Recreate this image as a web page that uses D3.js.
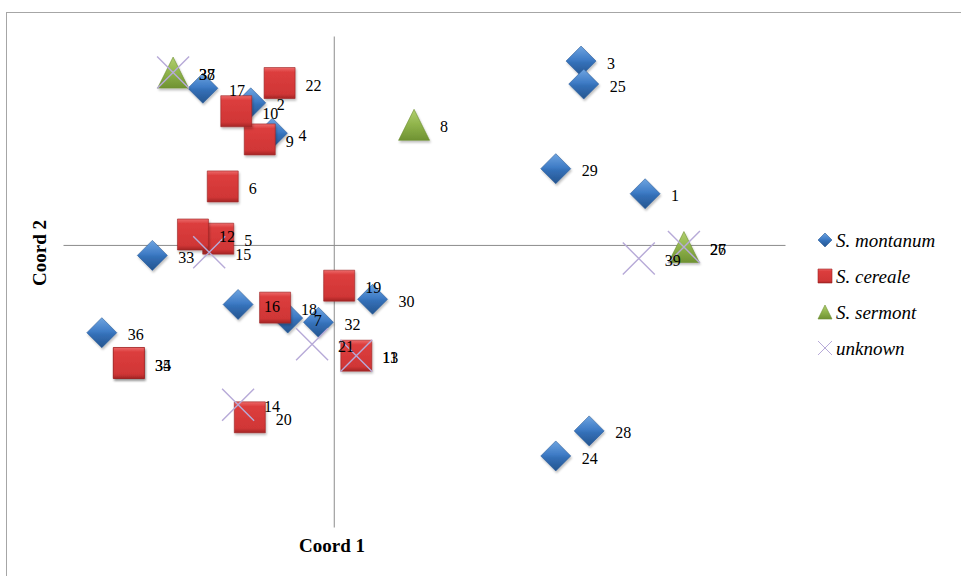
<html>
<head>
<style>
  body { margin: 0; background: #fff; }
  text { font-family: "Liberation Serif", "Times New Roman", serif; }
</style>
</head>
<body>
<svg id="mainSvg" width="961" height="576"></svg>
<script src="https://d3js.org/d3.v7.min.js"></script>
<script>
// PCoA coordinates
const montanumIds = [1, 2, 3, 4, 7, 16, 17, 24, 25, 28, 29, 30, 32, 33, 36]
const montanumX = [0.345, -0.092, 0.274, -0.068, -0.051, -0.106, -0.145, 0.246, 0.277, 0.283, 0.246, 0.043, -0.017, -0.201, -0.257]
const montanumY = [0.049, 0.136, 0.176, 0.107, -0.070, -0.057, 0.150, -0.202, 0.154, -0.178, 0.073, -0.052, -0.074, -0.010, -0.084]

const cerealeIds = [5, 6, 9, 10, 12, 13, 18, 19, 20, 22, 34, 35]
const cerealeX = [-0.128, -0.123, -0.082, -0.108, -0.156, 0.025, -0.065, 0.006, -0.093, -0.060, -0.227, -0.227]
const cerealeY = [0.006, 0.056, 0.101, 0.128, 0.010, -0.106, -0.060, -0.039, -0.165, 0.155, -0.113, -0.113]

const sermontIds = [8, 26, 37]
const sermontX = [0.089, 0.388, -0.178]
const sermontY = [0.115, -0.002, 0.165]

const unknownIds = [11, 14, 15, 21, 27, 38, 39]
const unknownX = [0.025, -0.106, -0.138, -0.024, 0.388, -0.178, 0.338]
const unknownY = [-0.106, -0.153, -0.007, -0.095, -0.002, 0.165, -0.013]

const seriesNames = ['S. montanum', 'S. cereale', 'S. sermont', 'unknown']

const svg = d3.select('#mainSvg')
const xScale = d3.scaleLinear().domain([-0.3, 0.5]).range([63, 785])
const yScale = d3.scaleLinear().domain([-0.27, 0.2]).range([527, 36])

const toPts = (ids, xs, ys) => ids.map((id, i) => ({ id, x: xs[i], y: ys[i] }))
const series = [
  { name: seriesNames[0], kind: 'diamond', pts: toPts(montanumIds, montanumX, montanumY) },
  { name: seriesNames[1], kind: 'square', pts: toPts(cerealeIds, cerealeX, cerealeY) },
  { name: seriesNames[2], kind: 'triangle', pts: toPts(sermontIds, sermontX, sermontY) },
  { name: seriesNames[3], kind: 'cross', pts: toPts(unknownIds, unknownX, unknownY) }
]

// gradients for the bevelled office-style markers
const defs = svg.append('defs')
function grad(id, stops) {
  const g = defs.append('linearGradient').attr('id', id)
    .attr('x1', 0).attr('y1', 0).attr('x2', 0).attr('y2', 1)
  stops.forEach(s => g.append('stop').attr('offset', s[0]).attr('stop-color', s[1]))
}
grad('gBlue', [[0, '#6ea4e0'], [0.45, '#3f7cc6'], [0.55, '#3470b8'], [1, '#25558f']])
grad('gRed', [[0, '#ec6a6a'], [0.15, '#dc3d3d'], [0.85, '#d03636'], [1, '#a52525']])
grad('gGreen', [[0, '#b2d070'], [0.5, '#8fb34b'], [1, '#6f9232']])
const shadow = defs.append('filter').attr('id', 'shadow')
  .attr('x', '-30%').attr('y', '-30%').attr('width', '160%').attr('height', '160%')
shadow.append('feDropShadow').attr('dx', 1).attr('dy', 2).attr('stdDeviation', 1.2)
  .attr('flood-color', '#000').attr('flood-opacity', 0.25)

// outer chart frame
svg.append('rect').attr('x', 6.5).attr('y', 12.5).attr('width', 1000).attr('height', 620)
  .attr('fill', 'none').attr('stroke', '#a6a6a6')

// axes crossing at zero, no ticks
svg.append('g').attr('transform', `translate(0, ${yScale(0)})`)
  .call(d3.axisBottom(xScale).tickValues([]).tickSizeOuter(0))
svg.append('g').attr('transform', `translate(${xScale(0)}, 0)`)
  .call(d3.axisLeft(yScale).tickValues([]).tickSizeOuter(0))
svg.selectAll('.domain').attr('stroke', '#8c8c8c')

function markerPath(kind, s) {
  const h = s / 2
  if (kind === 'diamond') return `M0,${-h}L${h},0L0,${h}L${-h},0Z`
  if (kind === 'square') return `M${-h},${-h}H${h}V${h}H${-h}Z`
  if (kind === 'triangle') return `M0,${-h}L${h},${h}H${-h}Z`
  return `M${-h},${-h}L${h},${h}M${-h},${h}L${h},${-h}`
}
function styleMarker(sel, kind) {
  if (kind === 'diamond') sel.attr('fill', 'url(#gBlue)').attr('stroke', '#2b5c99').attr('stroke-width', 0.6)
  else if (kind === 'square') sel.attr('fill', 'url(#gRed)').attr('stroke', '#9a2323').attr('stroke-width', 0.6)
  else if (kind === 'triangle') sel.attr('fill', 'url(#gGreen)').attr('stroke', '#6d8f33').attr('stroke-width', 0.6)
  else sel.attr('fill', 'none').attr('stroke', '#b7aad8').attr('stroke-width', 1.4)
}
const sizes = { diamond: 30, square: 31, triangle: 31, cross: 32 }

series.forEach(s => {
  const g = svg.append('g')
  const m = g.selectAll('path').data(s.pts).join('path')
    .attr('transform', d => `translate(${xScale(d.x)}, ${yScale(d.y)})`)
    .attr('d', markerPath(s.kind, sizes[s.kind]))
  styleMarker(m, s.kind)
  if (s.kind !== 'cross') m.attr('filter', 'url(#shadow)')
})

// data labels on top of all markers
series.forEach(s => {
  svg.append('g').selectAll('text').data(s.pts).join('text')
    .attr('x', d => xScale(d.x) + 26)
    .attr('y', d => yScale(d.y) + 2)
    .attr('dy', '0.35em')
    .attr('font-size', 16)
    .attr('fill', '#000')
    .text(d => d.id)
})

// axis titles
svg.append('text').attr('x', 332).attr('y', 552)
  .attr('text-anchor', 'middle').attr('font-size', 19).attr('font-weight', 'bold')
  .text('Coord 1')
svg.append('text').attr('transform', 'translate(46, 253) rotate(-90)')
  .attr('text-anchor', 'middle').attr('font-size', 19).attr('font-weight', 'bold')
  .text('Coord 2')

// legend
const legend = svg.append('g').selectAll('g').data(series).join('g')
  .attr('transform', (d, i) => `translate(825, ${240 + i * 36})`)
legend.each(function (d) {
  const p = d3.select(this).append('path').attr('d', markerPath(d.kind, 14))
  styleMarker(p, d.kind)
  if (d.kind === 'cross') p.attr('stroke-width', 1)
})
legend.append('text').attr('x', 11).attr('y', 7)
  .attr('font-size', 19).attr('font-style', 'italic').text(d => d.name)
</script>
</body>
</html>
